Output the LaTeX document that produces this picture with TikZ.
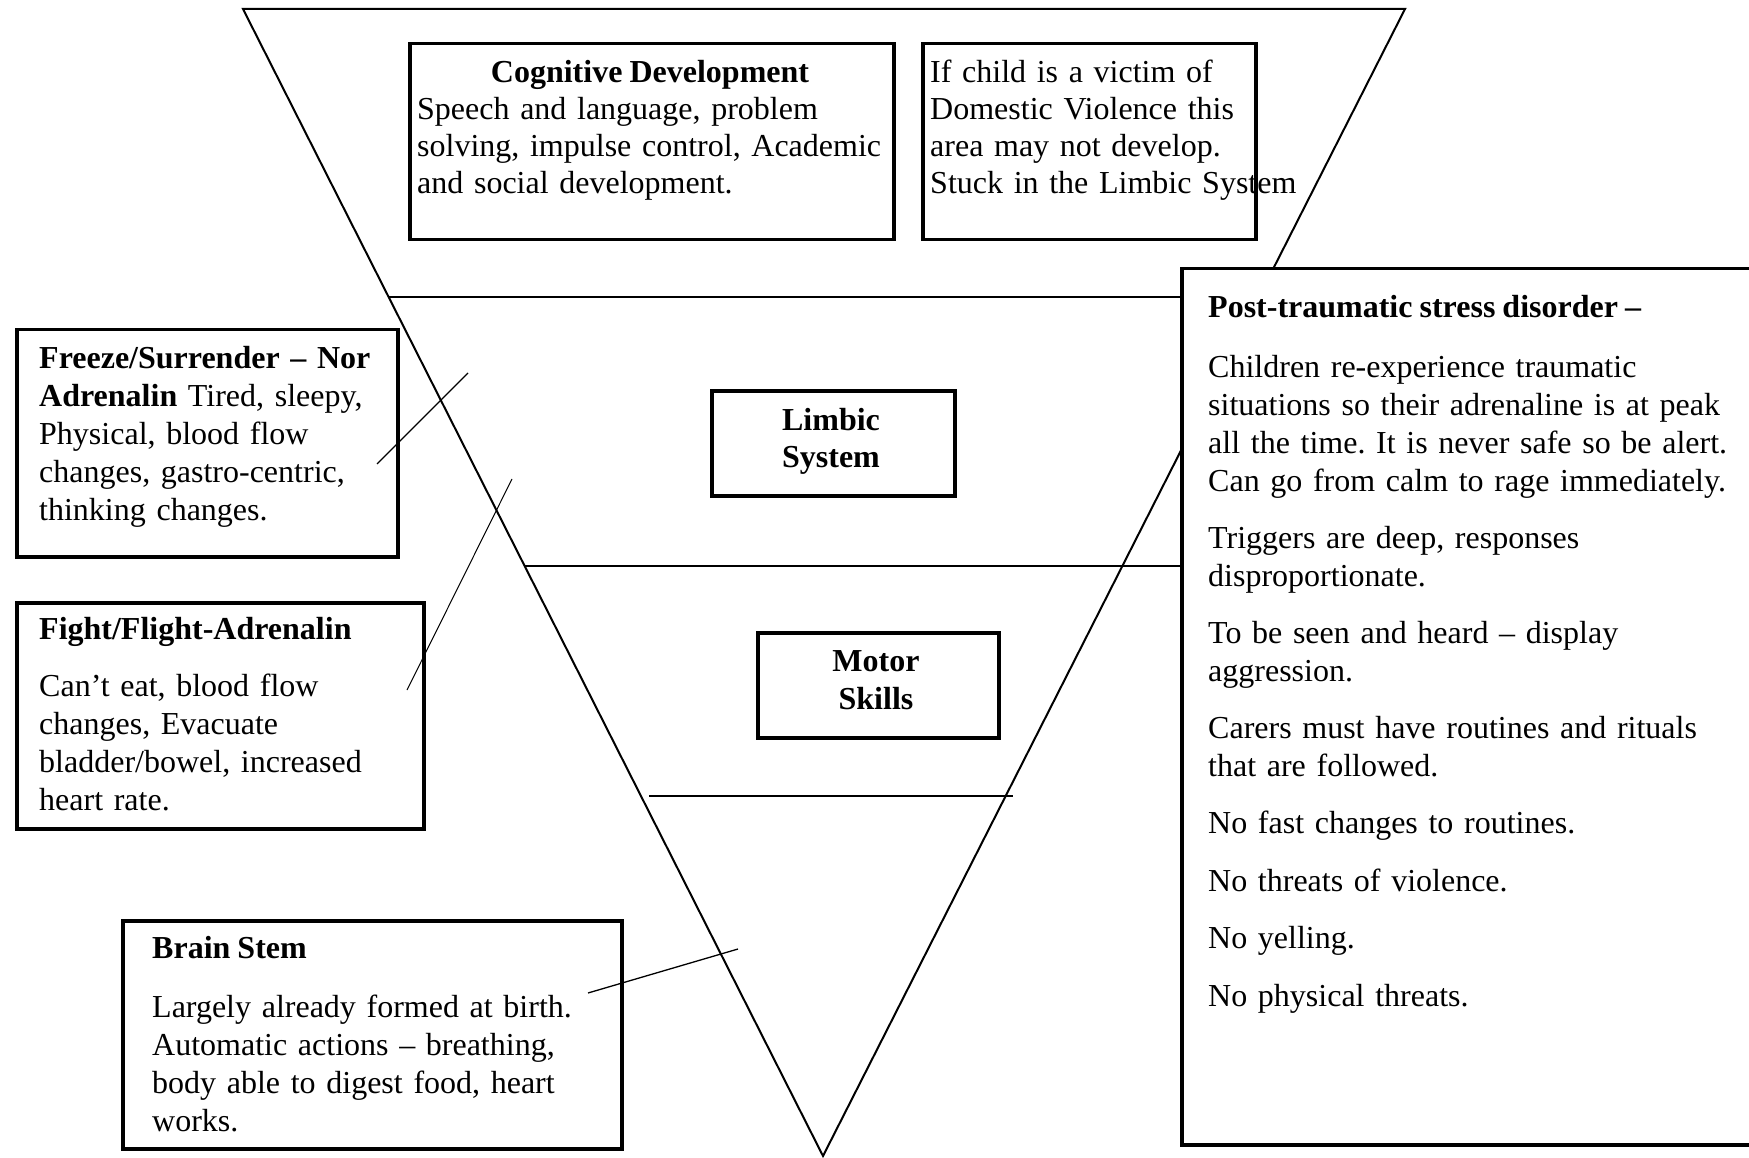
\documentclass[tikz,border=0pt]{standalone}
\usepackage{fontspec}
\setmainfont{Liberation Serif}[WordSpace=0.88]
\newcommand{\fszA}{\fontsize{32}{37}\selectfont}
\newcommand{\fszB}{\fontsize{32}{38}\selectfont}
\begin{document}
\frenchspacing
\begin{tikzpicture}[x=1pt,y=-1pt,
  boxst/.style={draw, line width=3.5pt, anchor=north west, inner sep=0pt},
  tri/.style={line width=2pt},
  hline/.style={line width=2.7pt},
  conn/.style={line width=1.3pt},
  txtA/.style={anchor=north west, inner sep=0pt, text width=560pt, align=left, font=\fszA},
  txtB/.style={anchor=north west, inner sep=0pt, text width=560pt, align=left, font=\fszB},
  ttl/.style={anchor=base west, inner sep=0pt, font=\fszB\bfseries},
  mid/.style={anchor=north, inner sep=0pt, text width=240pt, align=center, font=\bfseries}
]
\useasboundingbox (0,0) rectangle (1749,1158);
\fill[white] (0,0) rectangle (1749,1158);

% inverted triangle
\coordinate (tl) at (243,9);
\coordinate (tr) at (1405,9);
\coordinate (apex) at (823,1156);
\draw[tri, line join=miter] (tl) -- (tr) -- (apex) -- cycle;

% boxes
\node[boxst, minimum width=484pt, minimum height=196pt] (cog) at (408,42) {};
\node[boxst, minimum width=333pt, minimum height=196pt] (vic) at (921,42) {};
\node[boxst, minimum width=243pt, minimum height=105pt] (limb) at (710,389) {};
\node[boxst, minimum width=241pt, minimum height=105pt] (motor) at (756,631) {};
\node[boxst, minimum width=381pt, minimum height=227pt] (frz) at (15,328) {};
\node[boxst, minimum width=407pt, minimum height=226pt] (fgt) at (15,601) {};
\node[boxst, minimum width=499pt, minimum height=228pt] (brn) at (121,919) {};
\node[boxst, fill=white, minimum width=620pt, minimum height=876pt] (ptsd) at (1180,267) {};

% horizontal divisions
\coordinate (h1) at (388.6,297);
\coordinate (h2) at (525,566);
\coordinate (h3a) at (649,796);
\coordinate (h3b) at (1013,796);
\draw[hline] (h1) -- (h1 -| ptsd.west);
\draw[hline] (h2) -- (h2 -| ptsd.west);
\draw[hline] (h3a) -- (h3b);

% texts
\node[anchor=base, inner sep=0pt, font=\fszA\bfseries] (cogtitle) at (650,82.5) {Cognitive Development};
\node[txtA] (cogtext) at (417,93.6) {\strut Speech and language, problem\\
solving, impulse control, Academic\\
and social development.};
\node[txtA] (victext) at (930,56.6) {\strut If child is a victim of\\
Domestic Violence this\\
area may not develop.\\
Stuck in the Limbic System};

\node[mid, font=\fszA\bfseries] (limbtext) at (831,404.1) {\strut Limbic\\System};
\node[mid, font=\fszB\bfseries] (motortext) at (876,644.4) {\strut Motor\\Skills};

\node[txtB] (frztext) at (39,341.4) {\strut\textbf{Freeze/Surrender – Nor}\\
\textbf{Adrenalin} Tired, sleepy,\\
Physical, blood flow\\
changes, gastro-centric,\\
thinking changes.};

\node[ttl] (fgttitle) at (39,639) {Fight/Flight-Adrenalin};
\node[txtB] (fgttext) at (39,669.4) {\strut Can’t eat, blood flow\\
changes, Evacuate\\
bladder/bowel, increased\\
heart rate.};

\node[ttl] (brntitle) at (152,958) {Brain Stem};
\node[txtB] (brntext) at (152,990.4) {\strut Largely already formed at birth.\\
Automatic actions – breathing,\\
body able to digest food, heart\\
works.};

\node[ttl] (ptsdtitle) at (1208,318) {Post-traumatic stress disorder –};
\node[txtB] (ptsdtext) at (1208,350.4) {\strut Children re-experience traumatic\\
situations so their adrenaline is at peak\\
all the time. It is never safe so be alert.\\
Can go from calm to rage immediately.\\[19.5pt]
Triggers are deep, responses\\
disproportionate.\\[19pt]
To be seen and heard – display\\
aggression.\\[19pt]
Carers must have routines and rituals\\
that are followed.\\[19pt]
No fast changes to routines.\\[20pt]
No threats of violence.\\[19pt]
No yelling.\\[20pt]
No physical threats.};

% connectors
\coordinate (c1a) at (377,464);
\coordinate (c1b) at (468,373);
\coordinate (c2a) at (407,690);
\coordinate (c2b) at (512,479);
\coordinate (c3a) at (588,993);
\coordinate (c3b) at (738,949);
\draw[conn] (c1a) -- (c1b);
\draw[conn, line width=1pt] (c2a) -- (c2b);
\draw[conn] (c3a) -- (c3b);
\end{tikzpicture}
\end{document}
